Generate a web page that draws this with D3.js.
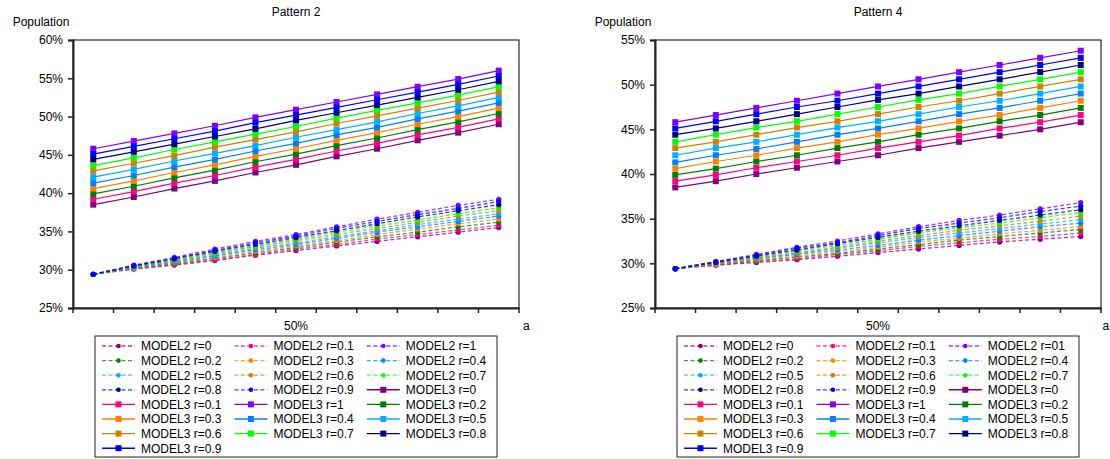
<!DOCTYPE html>
<html><head><meta charset="utf-8">
<script src="https://cdn.jsdelivr.net/npm/d3@7"></script>
<style>
body{margin:0;background:#fff}
svg text{font-family:"Liberation Sans",Arial,sans-serif;fill:#000}
</style>
</head><body>
<svg id="c" width="1110" height="459"></svg>
<script>
// ---------- data ----------
const categories = [1,2,3,4,5,6,7,8,9,10,11];
const xTickLabels = ["","","","","","50%","","","","",""];
const rLabels = ["r=0","r=0.1","r=1","r=0.2","r=0.3","r=0.4","r=0.5","r=0.6","r=0.7","r=0.8","r=0.9"];
const rLabelsPattern4M2 = ["r=0","r=0.1","r=01","r=0.2","r=0.3","r=0.4","r=0.5","r=0.6","r=0.7","r=0.8","r=0.9"];
const seriesColors = ["#800080","#FF0080","#8000FF","#008000","#FF8000","#0080FF","#00B0FF","#D08000","#00FF00","#000080","#0000FF"];
const yTicksP2 = [25,30,35,40,45,50,55,60];
const yTicksP4 = [25,30,35,40,45,50,55];

// Pattern 2, MODEL2 (legend order r=0,0.1,1,0.2,...,0.9)
const p2Model2 = [
 [29.4,30.1,30.6,31.2,31.9,32.5,33.1,33.7,34.3,34.9,35.5],
 [29.4,30.1,30.7,31.3,32.0,32.7,33.3,34.0,34.6,35.2,35.8],
 [29.4,30.6,31.6,32.7,33.7,34.6,35.6,36.6,37.5,38.4,39.2],
 [29.4,30.2,30.8,31.5,32.2,32.9,33.6,34.3,34.9,35.6,36.2],
 [29.4,30.2,30.9,31.6,32.4,33.1,33.8,34.6,35.3,36.0,36.6],
 [29.4,30.3,31.0,31.8,32.6,33.3,34.1,34.9,35.6,36.3,37.0],
 [29.4,30.3,31.1,31.9,32.8,33.5,34.3,35.1,35.9,36.6,37.3],
 [29.4,30.4,31.2,32.1,33.0,33.8,34.6,35.4,36.2,37.0,37.7],
 [29.4,30.4,31.3,32.2,33.1,34.0,34.9,35.7,36.5,37.3,38.1],
 [29.4,30.5,31.4,32.4,33.3,34.2,35.1,36.0,36.9,37.7,38.5],
 [29.4,30.5,31.5,32.5,33.5,34.4,35.4,36.3,37.2,38.0,38.9]
];
// Pattern 2, MODEL3
const p2Model3 = [
 [38.5,39.5,40.6,41.6,42.7,43.7,44.8,45.8,46.9,47.9,49.0],
 [39.2,40.2,41.3,42.3,43.4,44.4,45.5,46.5,47.6,48.6,49.7],
 [45.8,46.8,47.8,48.8,49.9,50.9,51.9,52.9,53.9,54.9,56.0],
 [39.9,40.9,42.0,43.0,44.1,45.1,46.2,47.2,48.3,49.3,50.4],
 [40.6,41.6,42.7,43.7,44.8,45.8,46.9,47.9,49.0,50.0,51.1],
 [41.3,42.3,43.4,44.4,45.5,46.5,47.6,48.6,49.7,50.7,51.8],
 [42.1,43.1,44.2,45.2,46.2,47.3,48.3,49.3,50.4,51.4,52.5],
 [42.9,43.9,44.9,46.0,47.0,48.0,49.1,50.1,51.1,52.1,53.2],
 [43.6,44.6,45.7,46.7,47.7,48.7,49.8,50.8,51.8,52.8,53.9],
 [44.4,45.4,46.4,47.4,48.4,49.5,50.5,51.5,52.5,53.5,54.6],
 [45.1,46.1,47.1,48.1,49.2,50.2,51.2,52.2,53.2,54.2,55.3]
];
// Pattern 4, MODEL2
const p4Model2 = [
 [29.4,29.8,30.1,30.4,30.8,31.2,31.6,32.0,32.4,32.7,33.0],
 [29.4,29.8,30.2,30.5,31.0,31.4,31.9,32.3,32.7,33.0,33.4],
 [29.4,30.2,31.0,31.8,32.5,33.3,34.1,34.8,35.4,36.1,36.8],
 [29.4,29.9,30.3,30.7,31.1,31.6,32.1,32.6,33.0,33.4,33.8],
 [29.4,29.9,30.4,30.8,31.3,31.8,32.4,32.8,33.3,33.7,34.1],
 [29.4,30.0,30.5,31.0,31.5,32.0,32.6,33.1,33.6,34.1,34.5],
 [29.4,30.0,30.6,31.1,31.7,32.3,32.9,33.4,33.9,34.4,34.9],
 [29.4,30.0,30.6,31.2,31.8,32.5,33.1,33.7,34.2,34.7,35.3],
 [29.4,30.1,30.7,31.4,32.0,32.7,33.4,34.0,34.5,35.1,35.7],
 [29.4,30.1,30.8,31.5,32.2,32.9,33.6,34.2,34.8,35.4,36.0],
 [29.4,30.2,30.9,31.7,32.3,33.1,33.9,34.5,35.1,35.8,36.4]
];
// Pattern 4, MODEL3
const p4Model3 = [
 [38.5,39.2,40.0,40.7,41.4,42.1,42.9,43.6,44.3,45.0,45.8],
 [39.2,39.9,40.7,41.4,42.1,42.9,43.6,44.3,45.1,45.8,46.6],
 [45.8,46.6,47.4,48.2,49.0,49.8,50.6,51.4,52.2,53.0,53.8],
 [39.9,40.6,41.4,42.1,42.9,43.6,44.4,45.1,45.9,46.6,47.4],
 [40.6,41.4,42.1,42.9,43.6,44.4,45.1,45.9,46.6,47.4,48.2],
 [41.3,42.1,42.8,43.6,44.4,45.1,45.9,46.7,47.4,48.2,49.0],
 [42.1,42.9,43.6,44.4,45.2,45.9,46.7,47.5,48.2,49.0,49.8],
 [42.9,43.6,44.4,45.2,45.9,46.7,47.5,48.2,49.0,49.8,50.6],
 [43.6,44.4,45.2,45.9,46.7,47.5,48.3,49.0,49.8,50.6,51.4],
 [44.4,45.1,45.9,46.7,47.5,48.3,49.0,49.8,50.6,51.4,52.2],
 [45.1,45.9,46.7,47.5,48.2,49.0,49.8,50.6,51.4,52.2,53.0]
];

// ---------- drawing ----------
const svg = d3.select("#c");
const FS = 12;

function drawChart(cfg){
  const g = svg.append("g");
  const x = d3.scaleBand().domain(categories).range([cfg.left, cfg.right]).padding(0);
  const y = d3.scaleLinear().domain([cfg.yTicks[0], cfg.yTicks[cfg.yTicks.length-1]]).range([cfg.bottom, cfg.top]);
  const cx = d => x(d) + x.bandwidth()/2;

  // frame
  g.append("rect").attr("x",cfg.left).attr("y",cfg.top)
   .attr("width",cfg.right-cfg.left).attr("height",cfg.bottom-cfg.top)
   .attr("fill","none").attr("stroke","#000").attr("stroke-width",1);

  // y axis
  const ya = g.append("g").attr("transform",`translate(${cfg.left},0)`)
    .call(d3.axisLeft(y).tickValues(cfg.yTicks).tickFormat(d=>d+"%").tickSize(5).tickPadding(5));
  ya.select(".domain").attr("stroke","#222").attr("stroke-width",2);
  ya.selectAll(".tick line").attr("stroke","#222").attr("stroke-width",1.5);
  ya.selectAll("text").style("font-size",FS+"px").attr("fill","#000");

  // x axis: label + ticks at band edges
  const xa = g.append("g").attr("transform",`translate(0,${cfg.bottom})`)
    .call(d3.axisBottom(x).tickSize(0).tickPadding(13).tickFormat((d,i)=>xTickLabels[i]));
  xa.select(".domain").attr("stroke","#222").attr("stroke-width",2);
  xa.selectAll("text").style("font-size",FS+"px").attr("fill","#000");
  const edges = categories.map(d=>x(d)).concat([x(categories[categories.length-1])+x.bandwidth()]);
  g.selectAll(".xt").data(edges).enter().append("line")
   .attr("x1",d=>d).attr("x2",d=>d).attr("y1",cfg.bottom).attr("y2",cfg.bottom+5)
   .attr("stroke","#222").attr("stroke-width",1.5);

  // titles
  g.append("text").attr("x",(cfg.left+cfg.right)/2).attr("y",16).attr("text-anchor","middle")
   .style("font-size",FS+"px").text(cfg.title);
  g.append("text").attr("x",cfg.popX).attr("y",26).attr("text-anchor","middle")
   .style("font-size",FS+"px").text("Population");
  g.append("text").attr("x",cfg.right+cfg.aOff).attr("y",cfg.bottom+22)
   .style("font-size",FS+"px").text("a");

  const line = d3.line().x((d,i)=>cx(categories[i])).y(d=>y(d));

  // MODEL2 dashed
  cfg.m2.forEach((vals,k)=>{
    const s = g.append("g");
    s.append("path").attr("d",line(vals)).attr("fill","none")
     .attr("stroke",seriesColors[k]).attr("stroke-opacity",0.75).attr("stroke-width",1.3)
     .attr("stroke-dasharray","4,2.5");
    s.selectAll("circle").data(vals).enter().append("circle")
     .attr("cx",(d,i)=>cx(categories[i])).attr("cy",d=>y(d)).attr("r",2.6)
     .attr("fill",seriesColors[k]);
  });
  // MODEL3 solid
  cfg.m3.forEach((vals,k)=>{
    const s = g.append("g");
    s.append("path").attr("d",line(vals)).attr("fill","none")
     .attr("stroke",seriesColors[k]).attr("stroke-width",1.2);
    s.selectAll("rect").data(vals).enter().append("rect")
     .attr("x",(d,i)=>cx(categories[i])-3).attr("y",d=>y(d)-3).attr("width",6).attr("height",6)
     .attr("fill",seriesColors[k]);
  });

  // legend
  const L = cfg.legendX, T = 336;
  g.append("rect").attr("x",L).attr("y",T).attr("width",402).attr("height",121)
   .attr("fill","#fff").attr("stroke","#222").attr("stroke-width",1);
  const items = [];
  cfg.m2Labels.forEach((r,k)=>items.push({name:"MODEL2 "+r, color:seriesColors[k], type:2}));
  rLabels.forEach((r,k)=>items.push({name:"MODEL3 "+r, color:seriesColors[k], type:3}));
  items.forEach((it,i)=>{
    const col = i%3, row = Math.floor(i/3);
    const ix = L + col*132.4, iy = 346 + row*14.6;
    const li = g.append("g");
    if(it.type===2){
      li.append("line").attr("x1",ix+7).attr("x2",ix+40).attr("y1",iy).attr("y2",iy)
        .attr("stroke",it.color).attr("stroke-opacity",0.75).attr("stroke-width",1.3).attr("stroke-dasharray","4,2.5");
      li.append("circle").attr("cx",ix+23.5).attr("cy",iy).attr("r",2.3).attr("fill",it.color);
    } else {
      li.append("line").attr("x1",ix+7).attr("x2",ix+40).attr("y1",iy).attr("y2",iy)
        .attr("stroke",it.color).attr("stroke-width",1.4);
      li.append("rect").attr("x",ix+23.5-3).attr("y",iy-3).attr("width",6).attr("height",6).attr("fill",it.color);
    }
    li.append("text").attr("x",ix+46).attr("y",iy+4.3).style("font-size",FS+"px").text(it.name);
  });
}

drawChart({left:73,right:519,top:40,bottom:308,yTicks:yTicksP2,title:"Pattern 2",popX:41,aOff:4,
  m2:p2Model2,m3:p2Model3,m2Labels:rLabels,legendX:95});
drawChart({left:655,right:1101,top:40,bottom:308,yTicks:yTicksP4,title:"Pattern 4",popX:623,aOff:1.5,
  m2:p4Model2,m3:p4Model3,m2Labels:rLabelsPattern4M2,legendX:677});
</script>
</body></html>
